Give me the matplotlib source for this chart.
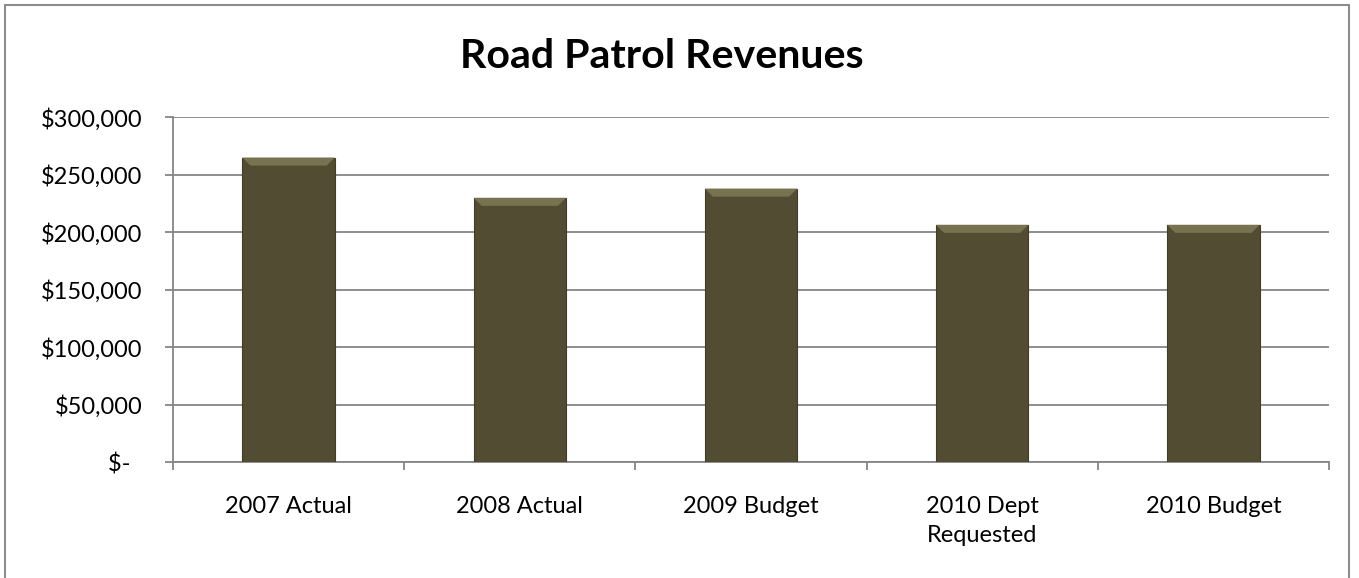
import matplotlib
matplotlib.use("Agg")
import matplotlib.pyplot as plt
from matplotlib.patches import Polygon, Rectangle
from matplotlib.ticker import FixedLocator
import numpy as np

categories = ["2007 Actual", "2008 Actual", "2009 Budget", "2010 Dept\nRequested", "2010 Budget"]
revenues = [265000, 230000, 238000, 206500, 206500]
y_ticks = [0, 50000, 100000, 150000, 200000, 250000, 300000]
y_tick_labels = ["$-  ", "$50,000", "$100,000", "$150,000", "$200,000", "$250,000", "$300,000"]
title = "Road Patrol Revenues"

plt.rcParams['font.family'] = ['Lato', 'DejaVu Sans']

W, H = 1359, 578
fig = plt.figure(figsize=(W / 100, H / 100), dpi=100)
ax = fig.add_axes([173 / W, 1 - 462.3 / H, (1329 - 173) / W, (462.3 - 117.3) / H])

x = np.arange(len(categories))
bw = 0.4
bar_color = "#524D32"
ax.bar(x, revenues, width=bw, color=bar_color, edgecolor="#403C25", linewidth=0.8, zorder=3)

# top bevel highlight
bev_h = 7000
bev_d = 0.035
for xi, v in zip(x, revenues):
    poly = Polygon([(xi - bw / 2, v), (xi + bw / 2, v),
                    (xi + bw / 2 - bev_d, v - bev_h), (xi - bw / 2 + bev_d, v - bev_h)],
                   closed=True, facecolor="#77724F", edgecolor="none", zorder=4)
    ax.add_patch(poly)

ax.set_xlim(-0.5, len(categories) - 0.5)
ax.set_ylim(0, 300000)
ax.set_yticks(y_ticks)
ax.set_yticklabels(y_tick_labels, fontsize=17)
ax.yaxis.grid(True, color="#868686", linewidth=1.3, zorder=0)
ax.set_axisbelow(True)

ax.set_xticks(x)
ax.set_xticklabels(categories, fontsize=17, linespacing=1.5)
ax.tick_params(axis='x', which='major', length=0, pad=24)
ax.xaxis.set_minor_locator(FixedLocator(np.arange(-0.5, len(categories), 1.0)))
ax.tick_params(axis='x', which='minor', length=6, color="#868686", width=1.3)
ax.tick_params(axis='y', length=6, color="#868686", width=1.3, pad=16)

for s in ["top", "right"]:
    ax.spines[s].set_visible(False)
ax.spines["left"].set_color("#868686")
ax.spines["left"].set_linewidth(1.3)
ax.spines["bottom"].set_color("#868686")
ax.spines["bottom"].set_linewidth(1.3)

fig.text(662 / W, 1 - 57 / H, title, ha="center", va="center", fontsize=29.6, fontweight="bold")

fig.patches.append(Rectangle((5 / W, -0.05), (1349 - 5) / W, 1.05 - 5 / H,
                             transform=fig.transFigure, fill=False,
                             edgecolor="#8C8C8C", linewidth=1.5))

fig.savefig("out.png", dpi=100)
